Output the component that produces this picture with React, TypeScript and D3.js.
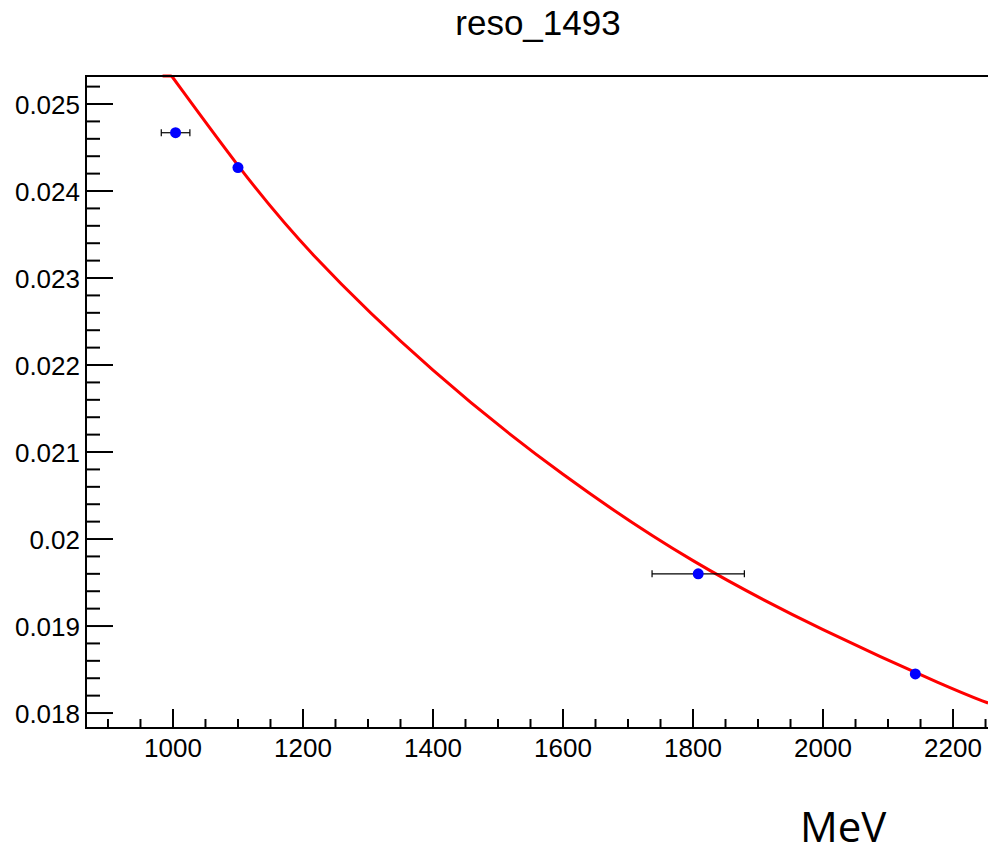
import React, { useEffect, useRef } from 'react'
import * as d3 from 'd3'

// measured points (MeV, resolution)
const energy = [1004, 1100, 1808, 2142]
const reso = [0.02467, 0.02427, 0.0196, 0.01845]
const energyErr = [22, 0, 71, 0]

// fit curve
const fitE = [998, 1100, 1200, 1400, 1600, 1800, 2000, 2200, 2254]
const fitR = [0.025322, 0.02428, 0.023345, 0.021897, 0.020713, 0.019713, 0.018943, 0.01827, 0.018115]
const fitStart = 984 // the fit runs clipped along the frame top from here

const xTicks = [1000, 1200, 1400, 1600, 1800, 2000, 2200]
const yTicks = [0.018, 0.019, 0.02, 0.021, 0.022, 0.023, 0.024, 0.025]
const yTickLabels = ['0.018', '0.019', '0.02', '0.021', '0.022', '0.023', '0.024', '0.025']

const W = 988
const H = 852
const margin = { left: 86, top: 76, right: 0, bottom: 124 }

export default function App() {
  const ref = useRef<SVGSVGElement>(null)

  useEffect(() => {
    const svg = d3.select(ref.current)
    svg.selectAll('*').remove()
    const font = '"Liberation Sans", Arial, Helvetica, sans-serif'

    const x = d3.scaleLinear().domain([866.2, 2253.8]).range([margin.left, W - margin.right])
    const y = d3.scaleLinear().domain([0.017828, 0.025322]).range([H - margin.bottom, margin.top])
    const x0 = margin.left, x1 = W - margin.right, y0 = H - margin.bottom, y1 = margin.top

    svg.append('rect').attr('width', W).attr('height', H).attr('fill', '#fff')

    // title
    svg.append('text').attr('x', 538).attr('y', 35).attr('text-anchor', 'middle')
      .style('font-family', font).style('font-size', '35px').text('reso_1493')

    // fit curve, clipped to frame
    svg.append('clipPath').attr('id', 'frame').append('rect')
      .attr('x', x0).attr('y', y1 - 2).attr('width', x1 - x0).attr('height', y0 - y1 + 2)
    const line = d3.line<number>().x((_, i) => x(fitE[i])).y(d => y(d)).curve(d3.curveBasis)
    svg.append('path').attr('d', line(fitR)).attr('fill', 'none').attr('stroke', '#ff0000')
      .attr('stroke-width', 3).attr('clip-path', 'url(#frame)')
    svg.append('line').attr('x1', x(fitStart)).attr('x2', x(fitE[0])).attr('y1', y(fitR[0])).attr('y2', y(fitR[0]))
      .attr('stroke', '#ff0000').attr('stroke-width', 3)

    // error bars + markers
    const g = svg.append('g')
    energy.forEach((e, i) => {
      const cy = y(reso[i])
      if (energyErr[i] > 0) {
        const a = x(e - energyErr[i]), b = x(e + energyErr[i])
        g.append('line').attr('x1', a).attr('x2', b).attr('y1', cy).attr('y2', cy).attr('stroke', '#000').attr('stroke-width', 1.2)
        ;[a, b].forEach(v => g.append('line').attr('x1', v).attr('x2', v).attr('y1', cy - 3.5).attr('y2', cy + 3.5).attr('stroke', '#000').attr('stroke-width', 1.2))
      }
      g.append('circle').attr('cx', x(e)).attr('cy', cy).attr('r', 5.5).attr('fill', '#0000ff')
    })

    // frame
    const frame = svg.append('g').attr('stroke', '#000').attr('stroke-width', 2)
    frame.append('line').attr('x1', x0).attr('x2', x0).attr('y1', y1 - 1).attr('y2', y0 + 1)
    frame.append('line').attr('x1', x0).attr('x2', x1).attr('y1', y0).attr('y2', y0)
    frame.append('line').attr('x1', x0).attr('x2', x1).attr('y1', y1).attr('y2', y1)

    // x ticks
    const xt = svg.append('g').attr('stroke', '#000').attr('stroke-width', 2)
    d3.range(900, 2260, 50).forEach(v => {
      const major = v % 200 === 0
      xt.append('line').attr('x1', x(v)).attr('x2', x(v)).attr('y1', y0).attr('y2', y0 - (major ? 19 : 9))
    })
    svg.append('g').selectAll('text').data(xTicks).join('text')
      .attr('x', d => x(d)).attr('y', 757).attr('text-anchor', 'middle')
      .style('font-family', font).style('font-size', '26px').text(d => d)

    // y ticks
    const yt = svg.append('g').attr('stroke', '#000').attr('stroke-width', 2)
    d3.range(0, 37).forEach(k => {
      const v = 0.018 + k * 0.0002
      if (v > 0.02533) return
      const major = k % 5 === 0
      yt.append('line').attr('x1', x0).attr('x2', x0 + (major ? 27 : 14)).attr('y1', y(v)).attr('y2', y(v))
    })
    svg.append('g').selectAll('text').data(yTicks).join('text')
      .attr('x', 80).attr('y', d => y(d) + 9.5).attr('text-anchor', 'end')
      .style('font-family', font).style('font-size', '26px').text((_, i) => yTickLabels[i])

    // axis title
    svg.append('text').attr('x', 800).attr('y', 842)
      .style('font-family', '"Open Sans", sans-serif').style('font-size', '42px').text('MeV')
  }, [])

  return <svg ref={ref} width={W} height={H} style={{ position: 'absolute', left: 0, top: 0, display: 'block' }} />
}
